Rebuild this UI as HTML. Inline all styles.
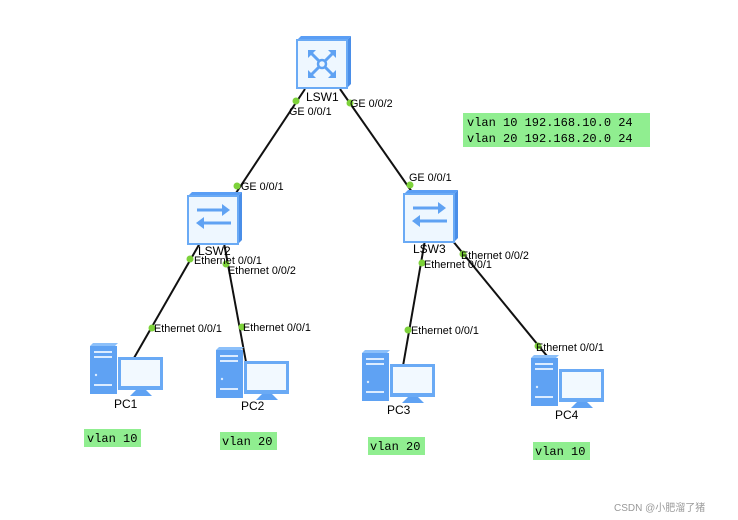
<!DOCTYPE html>
<html><head><meta charset="utf-8"><style>
html,body{margin:0;padding:0;background:#fff;}
svg{display:block;}
text{font-family:"Liberation Sans",sans-serif;}
.p{font-size:10.8px;fill:#000;}
.n{font-size:12px;fill:#000;}
.m{font-family:"Liberation Mono",monospace;font-size:12px;fill:#000;}
</style></head><body>
<svg width="738" height="520" viewBox="0 0 738 520" xmlns="http://www.w3.org/2000/svg">
<defs>
<g id="sw">
  <polygon points="0,4 4,0 54,0 50,4" fill="#5a9ef5"/>
  <polygon points="50,4 54,0 54,48 50,52" fill="#4a8ee8"/>
  <rect x="0" y="4" width="50" height="48" fill="#eef7ff" stroke="#6aaaf5" stroke-width="2"/>
</g>
<g id="pc">
  <polygon points="0,3 3,0 28,0 25,3" fill="#8cc0fa"/>
  <rect x="0" y="3" width="27" height="48" fill="#5fa2f3"/>
  <rect x="4" y="8" width="18" height="2" fill="#dcecff"/>
  <rect x="4" y="13" width="18" height="2" fill="#dcecff"/>
  <rect x="4" y="41" width="18" height="2" fill="#dcecff"/>
  <circle cx="6" cy="32" r="1.2" fill="#dcecff"/>
  <rect x="28" y="14" width="45" height="33" fill="#6aaaf5"/>
  <rect x="31" y="17" width="39" height="26" fill="#f2f9ff"/>
  <polygon points="46,47 56,47 62,53 40,53" fill="#5fa2f3"/>
</g>
</defs>
<g stroke="#111" stroke-width="2">
  <line x1="305" y1="89" x2="236" y2="193"/>
  <line x1="340" y1="89" x2="412" y2="192"/>
  <line x1="200" y1="243" x2="134" y2="358"/>
  <line x1="224" y1="243" x2="246" y2="362"/>
  <line x1="425" y1="240" x2="403" y2="366"/>
  <line x1="452" y1="240" x2="547" y2="356"/>
</g>
<use href="#sw" x="297" y="36"/>
<g stroke="#5fa2f3" stroke-width="3" fill="none" stroke-linecap="round">
  <line x1="311" y1="53" x2="333" y2="75"/><line x1="333" y1="53" x2="311" y2="75"/>
</g>
<circle cx="322" cy="64" r="4" fill="#eef7ff" stroke="#5fa2f3" stroke-width="2.5"/>
<g fill="#5fa2f3"><polygon points="308,50 316,50 308,58"/><polygon points="336,50 328,50 336,58"/><polygon points="308,78 316,78 308,70"/><polygon points="336,78 328,78 336,70"/></g>
<use href="#sw" x="188" y="192"/>
<use href="#sw" x="404" y="190"/>
<g stroke="#5fa2f3" stroke-width="3" fill="#5fa2f3">
  <line x1="197" y1="210" x2="226" y2="210"/><polygon points="230,210 222,204 222,216" stroke="none"/>
  <line x1="202" y1="223" x2="231" y2="223"/><polygon points="196,223 204,217 204,229" stroke="none"/>
  <line x1="413" y1="208" x2="442" y2="208"/><polygon points="446,208 438,202 438,214" stroke="none"/>
  <line x1="418" y1="221" x2="447" y2="221"/><polygon points="412,221 420,215 420,227" stroke="none"/>
</g>
<use href="#pc" x="90" y="343"/>
<use href="#pc" x="216" y="347"/>
<use href="#pc" x="362" y="350"/>
<use href="#pc" x="531" y="355"/>
<g fill="#7dd23a">
  <circle cx="296" cy="101" r="3.5"/><circle cx="350" cy="103" r="3.5"/>
  <circle cx="237" cy="186" r="3.5"/><circle cx="410" cy="185" r="3.5"/>
  <circle cx="190" cy="259" r="3.5"/><circle cx="226" cy="264" r="3.5"/>
  <circle cx="152" cy="328" r="3.5"/><circle cx="242" cy="327" r="3.5"/>
  <circle cx="422" cy="263" r="3.5"/><circle cx="463" cy="254" r="3.5"/>
  <circle cx="408" cy="330" r="3.5"/><circle cx="538" cy="346" r="3.5"/>
</g>
<text class="n" x="306" y="101">LSW1</text>
<text class="n" x="198" y="255">LSW2</text>
<text class="n" x="413" y="253">LSW3</text>
<text class="n" x="114" y="408">PC1</text>
<text class="n" x="241" y="410">PC2</text>
<text class="n" x="387" y="414">PC3</text>
<text class="n" x="555" y="419">PC4</text>
<text class="p" x="289" y="115">GE 0/0/1</text>
<text class="p" x="350" y="107">GE 0/0/2</text>
<text class="p" x="241" y="190">GE 0/0/1</text>
<text class="p" x="409" y="181">GE 0/0/1</text>
<text class="p" x="194" y="264">Ethernet 0/0/1</text>
<text class="p" x="228" y="274">Ethernet 0/0/2</text>
<text class="p" x="154" y="332">Ethernet 0/0/1</text>
<text class="p" x="243" y="331">Ethernet 0/0/1</text>
<text class="p" x="424" y="268">Ethernet 0/0/1</text>
<text class="p" x="461" y="259">Ethernet 0/0/2</text>
<text class="p" x="411" y="334">Ethernet 0/0/1</text>
<text class="p" x="536" y="351">Ethernet 0/0/1</text>
<rect x="463" y="113" width="187" height="34" fill="#90ee90"/>
<text class="m" x="467" y="126">vlan 10 192.168.10.0 24</text>
<text class="m" x="467" y="142">vlan 20 192.168.20.0 24</text>
<rect x="84" y="429" width="57" height="18" fill="#90ee90"/>
<text class="m" x="87" y="442">vlan 10</text>
<rect x="220" y="432" width="57" height="18" fill="#90ee90"/>
<text class="m" x="222" y="445">vlan 20</text>
<rect x="368" y="437" width="57" height="18" fill="#90ee90"/>
<text class="m" x="370" y="450">vlan 20</text>
<rect x="533" y="442" width="57" height="18" fill="#90ee90"/>
<text class="m" x="535" y="455">vlan 10</text>
<text x="614" y="511" font-size="10" fill="#999" font-family="Liberation Sans, Noto Sans CJK SC, sans-serif">CSDN @小肥溜了猪</text>
</svg>
</body></html>
